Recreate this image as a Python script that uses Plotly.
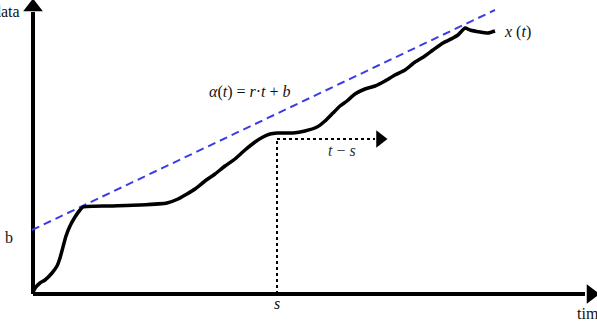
import plotly.graph_objects as go

# Curve x(t): time offset vs value (origin at axis crossing)
curve_t = [0, 3, 7, 12, 19, 24, 27, 30, 33, 37, 42, 47, 50, 77, 107, 134, 145, 154, 162,
           172, 182, 192, 202, 212, 222, 230, 237, 244, 260, 272, 284, 292, 300, 307, 314,
           322, 332, 342, 352, 362, 372, 382, 392, 400, 410, 420, 425, 432, 437, 447, 455, 462]
curve_v = [2, 7, 11, 14, 21, 28, 36, 47, 58, 68, 77, 84, 87, 88, 89, 91, 95, 100, 105,
           113, 120, 128, 135, 144, 152, 157, 160, 161, 161, 163, 167, 173, 181, 188, 193,
           200, 205, 208, 213, 219, 224, 232, 238, 244, 251, 256, 259, 266, 264, 262, 261, 263]

# Dashed bound alpha(t) = r*t + b (endpoints)
bound_t = [-1, 462]
bound_v = [64, 284]

s_t = 244
s_v = 155
arrow_end_t = 342

fig = go.Figure()

# axes lines
fig.add_trace(go.Scatter(x=[0, 0], y=[0, 282], mode="lines",
                         line=dict(color="black", width=4), hoverinfo="skip"))
fig.add_trace(go.Scatter(x=[0, 552], y=[0, 0], mode="lines",
                         line=dict(color="black", width=4), hoverinfo="skip"))
fig.add_trace(go.Scatter(x=[0], y=[287], mode="markers",
                         marker=dict(symbol="triangle-up", size=17, color="black"), hoverinfo="skip"))
fig.add_trace(go.Scatter(x=[558], y=[0], mode="markers",
                         marker=dict(symbol="triangle-right", size=17, color="black"), hoverinfo="skip"))

# dashed bound
fig.add_trace(go.Scatter(x=bound_t, y=bound_v, mode="lines",
                         line=dict(color="#3c3ce6", width=2, dash="8px,5px"), hoverinfo="skip"))

# dotted guides
fig.add_trace(go.Scatter(x=[s_t, s_t], y=[0, s_v], mode="lines",
                         line=dict(color="black", width=2, dash="dot"), hoverinfo="skip"))
fig.add_trace(go.Scatter(x=[s_t, arrow_end_t], y=[s_v, s_v], mode="lines",
                         line=dict(color="black", width=2, dash="dot"), hoverinfo="skip"))
fig.add_trace(go.Scatter(x=[arrow_end_t + 5], y=[s_v], mode="markers",
                         marker=dict(symbol="triangle-right", size=15, color="black"), hoverinfo="skip"))

# curve
fig.add_trace(go.Scatter(x=curve_t, y=curve_v, mode="lines",
                         line=dict(color="black", width=3.5, shape="spline", smoothing=0.5),
                         hoverinfo="skip"))

font = dict(family="Times New Roman", size=16, color="#111")
ann = [
    dict(x=-11, y=283, text="data", xanchor="right"),
    dict(x=542, y=-19, text="time", xanchor="left"),
    dict(x=-24, y=57, text="b", xanchor="center"),
    dict(x=s_t, y=-9, text="<i>s</i>", xanchor="center"),
    dict(x=309, y=144, text="<i>t</i> − <i>s</i>", xanchor="center", font=dict(color="#333")),
    dict(x=217, y=202, text="<i>α</i>(<i>t</i>) = <i>r</i>·<i>t</i> + <i>b</i>", xanchor="center"),
    dict(x=469, y=262, text="<i>x</i> (<i>t</i>)", xanchor="left"),
]
for a in ann:
    f = dict(font)
    if "font" in a:
        f.update(a.pop("font"))
    fig.add_annotation(**a, showarrow=False, font=f, yanchor="middle")

fig.update_layout(
    width=597, height=324, margin=dict(l=0, r=0, t=0, b=0),
    plot_bgcolor="white", paper_bgcolor="white", showlegend=False,
    xaxis=dict(range=[-33, 564], visible=False, fixedrange=True),
    yaxis=dict(range=[-30, 294], visible=False, fixedrange=True),
)
fig.write_html("out.html")
